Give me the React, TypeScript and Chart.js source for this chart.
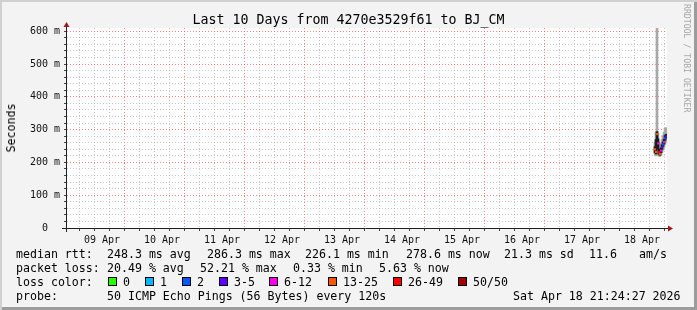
import React, { useEffect, useRef } from "react";
import { Chart, registerables } from "chart.js";

Chart.register(...registerables);

// ---------- data ----------
const titleText = "Last 10 Days from 4270e3529f61 to BJ_CM";
const yAxisTitle = "Seconds";
const watermark = "RRDTOOL / TOBI OETIKER";

// x axis in hours since 08 Apr 22:00 (10 days = 240 h)
const xMinH = 0;
const xMaxH = 240;
const dayLabels = ["09 Apr", "10 Apr", "11 Apr", "12 Apr", "13 Apr", "14 Apr", "15 Apr", "16 Apr", "17 Apr", "18 Apr"];
const yMax = 610;
const yLabelValues = [0, 100, 200, 300, 400, 500, 600];
const yLabelTexts = ["0  ", "100 m", "200 m", "300 m", "400 m", "500 m", "600 m"];

// samples (hours since start) and round trip times in ms
const sampleHours = [235.2, 235.6, 236.0, 236.4, 236.8, 237.2, 237.6, 238.0, 238.4, 238.8, 239.2, 239.6];
const medianMs = [240, 232, 286.3, 258, 231, 226.1, 236, 246, 255, 262, 274, 278.6];
const smokeLowMs = [222, 220, 224, 222, 219, 218, 222, 230, 238, 246, 256, 262];
const smokeHighMs = [262, 292, 640, 288, 262, 250, 258, 270, 282, 292, 304, 306];
const coreLowMs = [230, 226, 262, 240, 225, 222, 230, 240, 249, 256, 268, 274];
const coreHighMs = [248, 270, 294, 272, 240, 234, 244, 254, 262, 270, 282, 286];
const lossPct = [30, 44, 36, 18, 52.21, 28, 16, 8, 3, 12, 4, 5.63];

const lossBins = ["0", "1", "2", "3-5", "6-12", "13-25", "26-49", "50/50"];
const lossColors = ["#26ff00", "#00b8ff", "#0059ff", "#5e00ff", "#ff00ea", "#ff5500", "#ff0000", "#a10000"];
const lossBoxX = [108, 145, 182, 219, 269, 328, 393, 458];

const rttLine: [number, string][] = [
  [16, "median rtt:"], [107, "248.3 ms avg"], [207, "286.3 ms max"], [305, "226.1 ms min"],
  [406, "278.6 ms now"], [504, "21.3 ms sd"], [589, "11.6"], [639, "am/s"],
];
const lossLine: [number, string][] = [
  [16, "packet loss:"], [107, "20.49 % avg"], [200, "52.21 % max"], [293, "0.33 % min"], [379, "5.63 % now"],
];
const probeLine: [number, string][] = [
  [16, "probe:"], [107, "50 ICMP Echo Pings (56 Bytes) every 120s"], [513, "Sat Apr 18 21:24:27 2026"],
];

function lossIndex(pct: number): number {
  const n = Math.round((pct / 100) * 50);
  if (n <= 0) return 0;
  if (n === 1) return 1;
  if (n === 2) return 2;
  if (n <= 5) return 3;
  if (n <= 12) return 4;
  if (n <= 25) return 5;
  if (n <= 49) return 6;
  return 7;
}

const MONO = "'DejaVu Sans Mono', monospace";
const MAJOR_GRID = "rgba(255,80,80,0.7)";
const MINOR_GRID = "rgba(170,170,170,0.65)";

const decorPlugin = {
  id: "rrdDecor",
  beforeDraw(chart: any) {
    const { ctx, chartArea } = chart;
    ctx.save();
    ctx.fillStyle = "#ffffff";
    ctx.fillRect(chartArea.left, chartArea.top, chartArea.right - chartArea.left, chartArea.bottom - chartArea.top);
    ctx.restore();
  },
  afterDraw(chart: any) {
    const { ctx, chartArea } = chart;
    const yA = chartArea.bottom + 0.5;
    const xA = chartArea.left - 0.5;
    ctx.save();
    ctx.strokeStyle = "#202020";
    ctx.lineWidth = 1;
    ctx.beginPath();
    ctx.moveTo(chartArea.left - 5, yA);
    ctx.lineTo(chartArea.right + 2, yA);
    ctx.moveTo(xA, chartArea.bottom + 4);
    ctx.lineTo(xA, chartArea.top - 2);
    ctx.stroke();
    ctx.fillStyle = "#a11a1a";
    ctx.beginPath();
    ctx.moveTo(chartArea.right + 6, yA);
    ctx.lineTo(chartArea.right + 1, yA - 3);
    ctx.lineTo(chartArea.right + 1, yA + 3);
    ctx.closePath();
    ctx.fill();
    ctx.beginPath();
    ctx.moveTo(xA, chartArea.top - 6);
    ctx.lineTo(xA - 3, chartArea.top - 1);
    ctx.lineTo(xA + 3, chartArea.top - 1);
    ctx.closePath();
    ctx.fill();
    ctx.restore();
  },
};

function ChartCanvas() {
  const ref = useRef<HTMLCanvasElement | null>(null);
  useEffect(() => {
    if (!ref.current) return;
    const xTicks: number[] = [];
    for (let h = 2; h < xMaxH; h += 6) xTicks.push(h);
    const yTicks: number[] = [];
    for (let v = 0; v <= 600; v += 20) yTicks.push(v);

    const smokeOuter = sampleHours.map((x, i) => ({ x, y: [smokeLowMs[i], smokeHighMs[i]] }));
    const smokeCore = sampleHours.map((x, i) => ({ x, y: [coreLowMs[i], coreHighMs[i]] }));
    const median = sampleHours.map((x, i) => ({ x, y: medianMs[i] }));
    const pointColors = lossPct.map((p) => lossColors[lossIndex(p)]);

    const chart = new Chart(ref.current, {
      type: "bar",
      data: {
        datasets: [
          {
            type: "bar",
            data: smokeOuter as any,
            backgroundColor: "#a8a8a8",
            barThickness: 2,
            grouped: false,
            order: 3,
          } as any,
          {
            type: "bar",
            data: smokeCore as any,
            backgroundColor: "#202020",
            barThickness: 2,
            grouped: false,
            order: 2,
          } as any,
          {
            type: "line",
            data: median as any,
            borderColor: "#1a1a1a",
            borderWidth: 1,
            pointStyle: "rect",
            pointRadius: 1.5,
            pointBorderWidth: 0,
            pointBackgroundColor: pointColors,
            order: 1,
          } as any,
        ],
      },
      options: {
        animation: false,
        responsive: false,
        devicePixelRatio: 1,
        layout: { padding: { left: 0, top: 28, right: 30, bottom: 0 } },
        plugins: { legend: { display: false }, tooltip: { enabled: false }, title: { display: false } },
        scales: {
          x: {
            type: "linear",
            min: xMinH,
            max: xMaxH,
            offset: false,
            afterBuildTicks: (s: any) => {
              s.ticks = xTicks.map((v) => ({ value: v }));
            },
            afterFit: (s: any) => {
              s.height = 82;
            },
            ticks: {
              autoSkip: false,
              maxRotation: 0,
              padding: 3,
              color: "#111",
              font: { family: MONO, size: 10 },
              callback: (v: any) => {
                const h = Number(v);
                if ((h - 14) % 24 === 0) return dayLabels[(h - 14) / 24] ?? "";
                return "";
              },
            },
            grid: {
              color: (c: any) => (c.tick && (c.tick.value - 2) % 24 === 0 ? MAJOR_GRID : MINOR_GRID),
              tickColor: "#444",
              tickLength: 3,
              lineWidth: 1,
            },
            border: { display: false, dash: [1, 2] },
          },
          y: {
            type: "linear",
            min: 0,
            max: yMax,
            afterBuildTicks: (s: any) => {
              s.ticks = yTicks.map((v) => ({ value: v }));
            },
            afterFit: (s: any) => {
              s.width = 67;
            },
            ticks: {
              autoSkip: false,
              padding: 4,
              color: "#111",
              font: { family: MONO, size: 10 },
              callback: (v: any) => {
                const idx = yLabelValues.indexOf(Number(v));
                return idx >= 0 ? yLabelTexts[idx] : "";
              },
            },
            grid: {
              color: (c: any) =>
                c.tick && c.tick.value % 100 === 0 && c.tick.value > 0 ? MAJOR_GRID : MINOR_GRID,
              tickColor: "#444",
              tickLength: 3,
              lineWidth: 1,
            },
            border: { display: false, dash: [1, 2] },
          },
        },
      },
      plugins: [decorPlugin],
    });
    return () => chart.destroy();
  }, []);
  return (
    <canvas
      ref={ref}
      width={697}
      height={310}
      style={{ position: "absolute", left: 0, top: 0, width: 697, height: 310, display: "block" }}
    />
  );
}

const textBase: React.CSSProperties = {
  position: "absolute",
  fontFamily: MONO,
  whiteSpace: "pre",
  color: "#000",
  margin: 0,
};

export default function App() {
  useEffect(() => {
    document.body.style.margin = "0";
  }, []);
  const legendFont = 11.6;
  const lineTops = [247, 261, 275, 289];
  return (
    <div
      style={{
        position: "relative",
        width: 697,
        height: 310,
        background: "#f3f3f3",
        boxShadow: "inset 2px 2px 0 #d0d0d0, inset -3px -3px 0 #9c9c9c",
        overflow: "hidden",
      }}
    >
      <ChartCanvas />
      <div
        style={{
          ...textBase,
          left: 0,
          width: 697,
          top: 12.4,
          textAlign: "center",
          fontSize: 13.3,
          lineHeight: "16px",
        }}
      >
        {titleText}
      </div>
      <div
        style={{
          ...textBase,
          left: 11,
          top: 128,
          fontSize: legendFont,
          lineHeight: "14px",
          transform: "translate(-50%, -50%) rotate(-90deg)",
        }}
      >
        {yAxisTitle}
      </div>
      <div
        style={{
          ...textBase,
          left: 692,
          top: 4,
          fontSize: 8.2,
          lineHeight: "10px",
          color: "#a6a6a6",
          transformOrigin: "0 0",
          transform: "rotate(90deg)",
        }}
      >
        {watermark}
      </div>
      {rttLine.map(([x, t], i) => (
        <div key={"r" + i} style={{ ...textBase, left: x, top: lineTops[0], fontSize: legendFont, lineHeight: "14px" }}>
          {t}
        </div>
      ))}
      {lossLine.map(([x, t], i) => (
        <div key={"l" + i} style={{ ...textBase, left: x, top: lineTops[1], fontSize: legendFont, lineHeight: "14px" }}>
          {t}
        </div>
      ))}
      <div style={{ ...textBase, left: 16, top: lineTops[2], fontSize: legendFont, lineHeight: "14px" }}>loss color:</div>
      {lossBins.map((b, i) => (
        <React.Fragment key={"b" + i}>
          <div
            style={{
              position: "absolute",
              left: lossBoxX[i],
              top: 277,
              width: 9,
              height: 9,
              boxSizing: "border-box",
              border: "1px solid #000",
              background: lossColors[i],
            }}
          />
          <div
            style={{ ...textBase, left: lossBoxX[i] + 15, top: lineTops[2], fontSize: legendFont, lineHeight: "14px" }}
          >
            {b}
          </div>
        </React.Fragment>
      ))}
      {probeLine.map(([x, t], i) => (
        <div key={"p" + i} style={{ ...textBase, left: x, top: lineTops[3], fontSize: legendFont, lineHeight: "14px" }}>
          {t}
        </div>
      ))}
    </div>
  );
}
